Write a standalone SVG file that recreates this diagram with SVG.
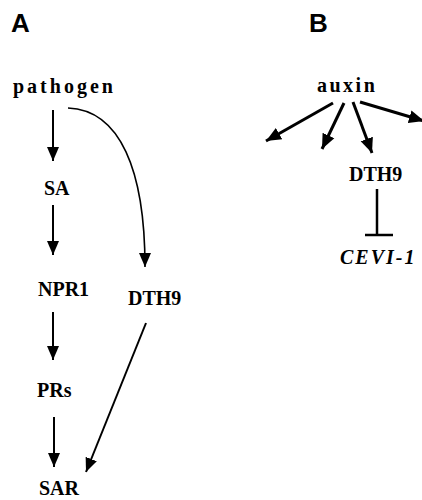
<svg xmlns="http://www.w3.org/2000/svg" width="422" height="500" viewBox="0 0 422 500">
<style>
.panel{font-family:"Liberation Sans",Arial,sans-serif;font-weight:bold;font-size:26px;fill:#000}
.lbl{font-family:"Liberation Serif","Times New Roman",serif;font-weight:bold;font-size:20px;fill:#000}
.sp{letter-spacing:3px}
.it{font-style:italic;letter-spacing:2px}
.c{fill:none;stroke:#000;stroke-linecap:butt}
.a{stroke-width:2;marker-end:url(#ah)}
.b{stroke-width:3;marker-end:url(#ahb)}
</style>
<defs>
<marker id="ah" markerUnits="userSpaceOnUse" markerWidth="16" markerHeight="14" refX="14" refY="6" orient="auto" viewBox="0 0 16 12"><path d="M0,0 L14,6 L0,12 z" fill="#000"/></marker>
<marker id="ahb" markerUnits="userSpaceOnUse" markerWidth="18" markerHeight="16" refX="15" refY="6.5" orient="auto" viewBox="0 0 18 13"><path d="M0,0 L15,6.5 L0,13 z" fill="#000"/></marker>
</defs>
<rect width="422" height="500" fill="#fff"/>
<text class="panel" x="11" y="32">A</text>
<text class="panel" x="309" y="32">B</text>
<g id="pathogen"><text class="lbl sp" x="13" y="93">pathogen</text></g>
<g id="SA"><text class="lbl" x="44" y="195">SA</text></g>
<g id="NPR1"><text class="lbl" x="38" y="296">NPR1</text></g>
<g id="PRs"><text class="lbl" x="37" y="397">PRs</text></g>
<g id="SAR"><text class="lbl" x="39" y="495">SAR</text></g>
<g id="DTH9a"><text class="lbl" x="128" y="305">DTH9</text></g>
<g id="auxin"><text class="lbl" style="letter-spacing:2.5px" x="317" y="92">auxin</text></g>
<g id="DTH9b"><text class="lbl" x="349" y="181">DTH9</text></g>
<g id="CEVI1"><text class="lbl it" x="340" y="264">CEVI-1</text></g>
<g id="connectors">
<line class="c a" x1="53" y1="110" x2="53" y2="161"/>
<line class="c a" x1="53" y1="205" x2="53" y2="255"/>
<line class="c a" x1="53" y1="312" x2="53" y2="360"/>
<line class="c a" x1="54" y1="417" x2="54" y2="467"/>
<path class="c" style="stroke-width:1.6;marker-end:url(#ah)" d="M68,108 C120,110 145,170 145,267"/>
<line class="c a" x1="146" y1="323" x2="86" y2="472"/>
<line class="c b" x1="333" y1="103" x2="266" y2="141"/>
<line class="c b" x1="344" y1="103" x2="322" y2="149"/>
<line class="c b" x1="353" y1="102" x2="372" y2="153"/>
<line class="c b" x1="360" y1="102" x2="424" y2="121"/>
<line class="c" style="stroke-width:2.5" x1="377" y1="189" x2="377" y2="235"/>
<line class="c" style="stroke-width:2.5" x1="365" y1="235" x2="393" y2="235"/>
</g>
</svg>
